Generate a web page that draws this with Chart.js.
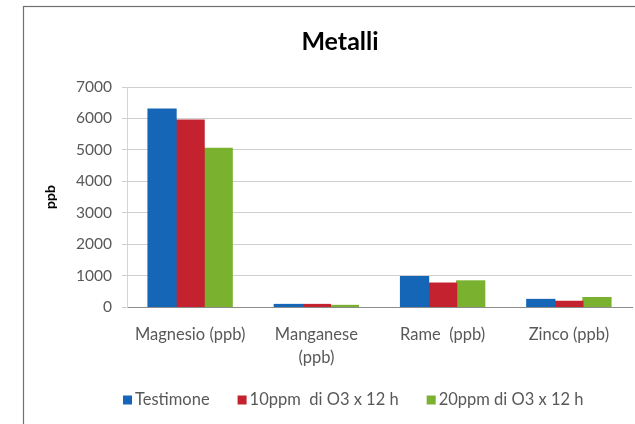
<!DOCTYPE html>
<html>
<head>
<meta charset="utf-8">
<script src="https://cdn.jsdelivr.net/npm/chart.js@4/dist/chart.umd.min.js"></script>
<style>
  html, body { margin: 0; padding: 0; background: #ffffff; overflow: hidden; }
  #wrap { position: relative; width: 635px; height: 424px; }
</style>
</head>
<body>
<div id="wrap"><canvas id="c" width="635" height="424"></canvas></div>
<script>
// Metal concentrations (ppb) for the control and the two ozone treatments
const categories = ['Magnesio (ppb)', ['Manganese', '(ppb)'], 'Rame  (ppb)', 'Zinco (ppb)'];
const seriesNames = ['Testimone', '10ppm  di O3 x 12 h', '20ppm di O3 x 12 h'];
const testimone = [6300, 80, 970, 240];
const ozono10 = [5950, 80, 760, 180];
const ozono20 = [5050, 50, 830, 300];
const yTickValues = [0, 1000, 2000, 3000, 4000, 5000, 6000, 7000];
const chartTitle = 'Metalli';
const yAxisTitle = 'ppb';

const seriesColors = ['#1666b8', '#c3222e', '#7ab22f'];
const FONT = 'Lato, "Open Sans", sans-serif';
const TEXT_GRAY = '#595959';

// Outer frame and white background
const framePlugin = {
  id: 'frame',
  beforeDraw(chart) {
    const ctx = chart.ctx;
    ctx.save();
    ctx.fillStyle = '#ffffff';
    ctx.fillRect(0, 0, chart.width, chart.height);
    ctx.strokeStyle = '#707070';
    ctx.lineWidth = 1.2;
    ctx.strokeRect(23.5, 6.5, chart.width + 40, chart.height + 40);
    ctx.restore();
  }
};

// Chart heading
const headingPlugin = {
  id: 'heading',
  afterDraw(chart) {
    const ctx = chart.ctx;
    ctx.save();
    ctx.font = 'bold 25px ' + FONT;
    ctx.fillStyle = '#000000';
    ctx.textAlign = 'center';
    ctx.textBaseline = 'alphabetic';
    ctx.fillText(chartTitle, 340, 50);
    ctx.restore();
  }
};

// Series key along the bottom, built from the datasets
const keyPlugin = {
  id: 'seriesKey',
  afterDraw(chart) {
    const ctx = chart.ctx;
    const y = 400;
    const box = 9;
    let x = 123;
    ctx.save();
    ctx.font = '16.5px ' + FONT;
    ctx.textBaseline = 'middle';
    ctx.textAlign = 'left';
    chart.data.datasets.forEach((ds) => {
      ctx.fillStyle = ds.backgroundColor;
      ctx.fillRect(x, y - box / 2, box, box);
      x += box + 3;
      ctx.fillStyle = TEXT_GRAY;
      ctx.fillText(ds.label, x, y);
      x += ctx.measureText(ds.label).width + 28;
    });
    ctx.restore();
  }
};

const datasets = [testimone, ozono10, ozono20].map((values, i) => ({
  label: seriesNames[i],
  data: values,
  backgroundColor: seriesColors[i],
  borderWidth: 0,
  inflateAmount: 0.6,
  barPercentage: 1.0,
  categoryPercentage: 0.667
}));

new Chart(document.getElementById('c'), {
  type: 'bar',
  data: { labels: categories, datasets },
  plugins: [framePlugin, headingPlugin, keyPlugin],
  options: {
    responsive: false,
    animation: false,
    devicePixelRatio: 1,
    layout: { padding: { top: 87, right: 3, bottom: 0, left: 23 } },
    plugins: {
      legend: { display: false },
      title: { display: false },
      tooltip: { enabled: false }
    },
    scales: {
      x: {
        afterFit(scale) { scale.height = 424 - 307; },
        grid: { display: false, drawTicks: false },
        border: { display: true, color: '#8c8c8c', width: 1 },
        ticks: {
          color: TEXT_GRAY,
          font: { family: FONT, size: 16.5, lineHeight: 1.4 },
          padding: 16,
          maxRotation: 0,
          autoSkip: false
        }
      },
      y: {
        min: 0,
        max: 7000,
        afterFit(scale) { scale.width = 127 - 23; },
        afterBuildTicks(scale) { scale.ticks = yTickValues.map(v => ({ value: v })); },
        grid: { color: '#cfcfcf', lineWidth: 1, drawTicks: true, tickLength: 5 },
        border: { display: true, color: '#d4d4d4', width: 1 },
        ticks: {
          color: TEXT_GRAY,
          font: { family: FONT, size: 15.5 },
          padding: 10,
          callback: (value) => String(value)
        },
        title: {
          display: true,
          text: yAxisTitle,
          color: '#000000',
          font: { family: FONT, size: 14, weight: 'bold' },
          padding: { top: 19, bottom: 0 }
        }
      }
    }
  }
});
</script>
</body>
</html>
